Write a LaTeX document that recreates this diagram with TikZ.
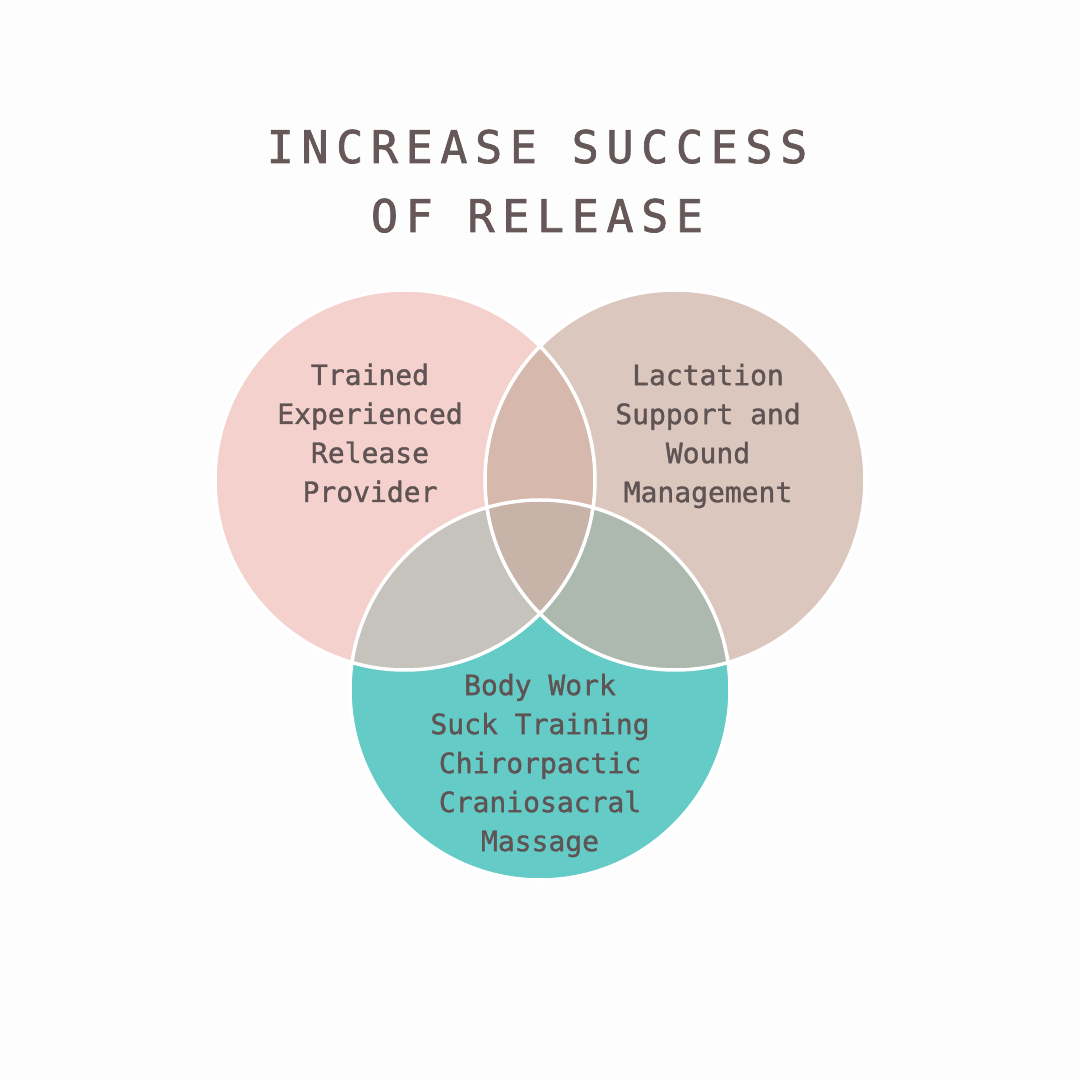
\documentclass[tikz,border=0pt]{standalone}
\usepackage{fontspec}
\newfontfamily\monofont[FakeBold=1.2]{DejaVu Sans Mono}
\newfontfamily\titlefont[LetterSpace=17,FakeBold=1.6]{DejaVu Sans Mono}
\definecolor{bg}{HTML}{FDFDFD}
\definecolor{cL}{HTML}{F4D1CC}
\definecolor{cR}{HTML}{DBC7BD}
\definecolor{cB}{HTML}{64CBC7}
\definecolor{cLR}{HTML}{D6B8AD}
\definecolor{cLB}{HTML}{C6C3BC}
\definecolor{cRB}{HTML}{ADB8AF}
\definecolor{cLRB}{HTML}{C7B3A7}
\definecolor{txt}{HTML}{5F5354}
\definecolor{ttl}{HTML}{665858}
\tikzset{
  body/.style={text=txt, align=center, inner sep=0pt, font=\monofont\fontsize{28}{39}\selectfont},
  title/.style={text=ttl, inner sep=0pt, anchor=base, font=\titlefont\fontsize{45}{54}\selectfont},
  ring/.style={draw=white, line width=3.5pt}
}
\begin{document}
\begin{tikzpicture}[x=1pt,y=1pt]
\fill[bg] (0,0) rectangle (1080,1080);
\useasboundingbox (0,0) rectangle (1080,1080);
\coordinate (L) at (405,600);
\coordinate (R) at (675,600);
\coordinate (B) at (540,390);
\def\rad{190pt}
\fill[cL] (L) circle[radius=\rad];
\fill[cR] (R) circle[radius=\rad];
\fill[cB] (B) circle[radius=\rad];
\begin{scope}\clip (L) circle[radius=\rad]; \fill[cLR] (R) circle[radius=\rad]; \end{scope}
\begin{scope}\clip (L) circle[radius=\rad]; \fill[cLB] (B) circle[radius=\rad]; \end{scope}
\begin{scope}\clip (R) circle[radius=\rad]; \fill[cRB] (B) circle[radius=\rad]; \end{scope}
\begin{scope}\clip (L) circle[radius=\rad]; \clip (R) circle[radius=\rad]; \fill[cLRB] (B) circle[radius=\rad]; \end{scope}
\draw[ring] (L) circle[radius=\rad];
\draw[ring] (R) circle[radius=\rad];
\draw[ring] (B) circle[radius=\rad];
\node[title] (t1) at (537,917) {INCREASE SUCCESS};
\node[title] (t2) at (537,848) {OF RELEASE};
\node[body] (left) at (370,647) {Trained\\Experienced\\Release\\Provider};
\node[body] (right) at (708,644) {Lactation\\Support and\\Wound\\Management};
\node[body] (bottom) at (540,314.5) {Body Work\\Suck Training\\Chirorpactic\\Craniosacral\\Massage};
\end{tikzpicture}
\end{document}
